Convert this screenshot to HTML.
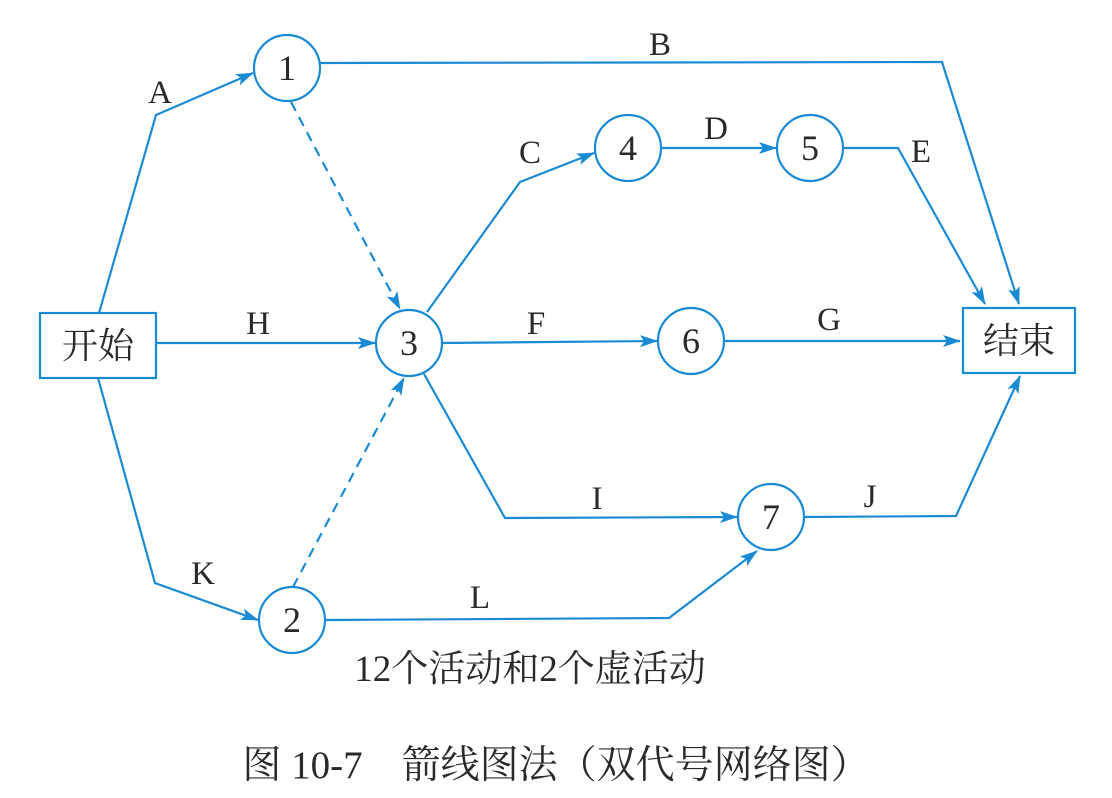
<!DOCTYPE html>
<html><head><meta charset="utf-8"><style>
html,body{margin:0;padding:0;background:#fff;}
svg{display:block;}
text{font-family:"Liberation Serif","Noto Serif CJK SC",serif;fill:#2a2a2a;}
</style></head><body>
<svg width="1112" height="798" viewBox="0 0 1112 798" xmlns="http://www.w3.org/2000/svg">
<defs>
<marker id="ar" markerWidth="18" markerHeight="12" refX="17" refY="6" orient="auto" markerUnits="userSpaceOnUse">
<path d="M0,0 L18,6 L0,12 L4,6 Z" fill="#1a8ad4"/>
</marker>
</defs>
<g fill="none" stroke="#1a8ad4" stroke-width="2.2">
<rect x="40" y="313" width="116" height="65"/>
<rect x="963" y="308" width="112" height="65"/>
<circle cx="287" cy="68" r="33"/>
<circle cx="409" cy="343" r="33"/>
<circle cx="628" cy="148" r="33"/>
<circle cx="810" cy="148" r="33"/>
<circle cx="691" cy="341" r="33"/>
<circle cx="771" cy="517" r="33"/>
<circle cx="292" cy="620" r="33"/>
<polyline points="99,313 156,115 253,73" marker-end="url(#ar)"/>
<polyline points="320,63 942,62 1019,304" marker-end="url(#ar)"/>
<polyline points="291,102 400,309" stroke-dasharray="10,7" marker-end="url(#ar)"/>
<polyline points="427,312 520,182 594,153" marker-end="url(#ar)"/>
<polyline points="661,148 776,148" marker-end="url(#ar)"/>
<polyline points="843,148 898,148 985,304" marker-end="url(#ar)"/>
<polyline points="156,343 375,343" marker-end="url(#ar)"/>
<polyline points="442,343 657,341" marker-end="url(#ar)"/>
<polyline points="724,341 960,341" marker-end="url(#ar)"/>
<polyline points="424,374 505,518 737,517" marker-end="url(#ar)"/>
<polyline points="804,517 956,516 1020,376" marker-end="url(#ar)"/>
<polyline points="98,378 155,583 258,620" marker-end="url(#ar)"/>
<polyline points="325,620 669,618 757,551" marker-end="url(#ar)"/>
<polyline points="293,587 404,378" stroke-dasharray="10,7" marker-end="url(#ar)"/>
</g>
<g font-size="33" text-anchor="middle">
<text x="98" y="358" font-size="36">开始</text>
<text x="1019" y="353" font-size="36">结束</text>
<text x="287" y="80" font-size="36">1</text>
<text x="409" y="355" font-size="36">3</text>
<text x="628" y="160" font-size="36">4</text>
<text x="810" y="160" font-size="36">5</text>
<text x="691" y="353" font-size="36">6</text>
<text x="771" y="529" font-size="36">7</text>
<text x="292" y="632" font-size="36">2</text>
<text x="160" y="103">A</text>
<text x="660" y="55">B</text>
<text x="530" y="163">C</text>
<text x="716" y="139">D</text>
<text x="921" y="162">E</text>
<text x="258" y="334">H</text>
<text x="536" y="334">F</text>
<text x="829" y="330">G</text>
<text x="597" y="509">I</text>
<text x="870" y="507">J</text>
<text x="203" y="584">K</text>
<text x="480" y="608">L</text>
<text x="530" y="681" font-size="37">12个活动和2个虚活动</text>
<text x="556" y="778" font-size="39">图 10-7　箭线图法（双代号网络图）</text>
</g>
</svg>
</body></html>
